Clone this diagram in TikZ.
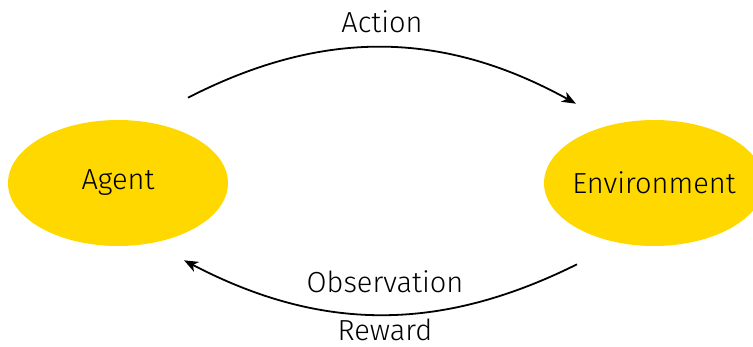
\documentclass[tikz,border=0pt]{standalone}
\usepackage{fontspec}
\setsansfont{Fira Sans Light}
\usetikzlibrary{arrows.meta,shapes.geometric,positioning}
\definecolor{gold}{HTML}{FFD800}

\begin{document}
\begin{tikzpicture}[x=1pt, y=1pt, node distance=536pt, thick,
    main node/.style={ellipse,fill=gold,minimum width=220pt,minimum height=126pt,inner xsep=-12pt,inner ysep=0pt,font=\sffamily\fontsize{29}{34}\selectfont},
    label node/.style={font=\sffamily\fontsize{29}{34}\selectfont,inner sep=0pt},
    flow/.style={line width=1.8pt,-{Stealth[length=14pt,width=11pt,inset=4pt]}}]

      \useasboundingbox (0,0) rectangle (753,-346);

      \node[main node] (1) at (118,-183) {Agent};
      \node[main node] (2) [right of=1] {Environment};

      \coordinate (a1) at ([shift={(-8,40.5)}]1.north east);
      \coordinate (a2) at ([shift={(0,34.5)}]2.north west);
      \coordinate (o1) at ([shift={(1,-36.5)}]2.south west);
      \coordinate (o2) at ([shift={(-12,-32.5)}]1.south east);

      \node[label node] (3) at (382,-22) {Action};
      \node[label node] (4) at (385,-282) {Observation};
      \node[label node] (5) at (385,-330) {Reward};

      \draw[flow] (a1) to[bend left=28] (a2);
      \draw[flow] (o1) to[bend left=27] (o2);

    \end{tikzpicture}
\end{document}
